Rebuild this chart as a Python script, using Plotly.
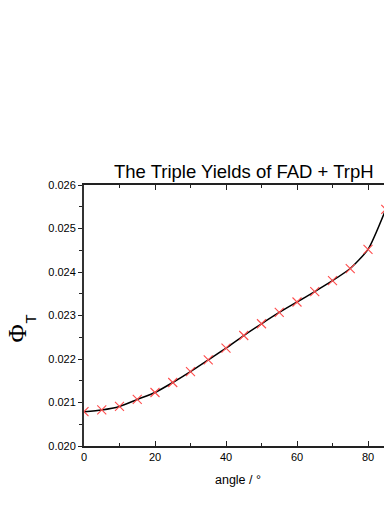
import plotly.graph_objs as go

# triplet yield vs field angle
angles = [0, 5, 10, 15, 20, 25, 30, 35, 40, 45, 50, 55, 60, 65, 70, 75, 80, 85]
phi_t = [0.02079, 0.02083, 0.02091, 0.02107, 0.02123, 0.02146, 0.02171, 0.02198,
         0.02225, 0.02254, 0.02281, 0.02307, 0.02331, 0.02355, 0.02380, 0.02408,
         0.02452, 0.02544]

font = "Liberation Sans, Arial, sans-serif"

fig = go.Figure()
fig.add_trace(go.Scatter(
    x=angles, y=phi_t, mode="lines",
    line=dict(color="black", width=1.5, shape="spline", smoothing=0.6),
    showlegend=False,
))
fig.add_trace(go.Scatter(
    x=angles, y=phi_t, mode="markers",
    marker=dict(symbol="x-thin-open", size=9,
                line=dict(color="#ff4d4d", width=1.1), color="#ff4d4d"),
    showlegend=False,
))

# page body has an 8px margin, so the figure is sized to fit inside the window
fig.update_layout(
    width=384, height=500,
    margin=dict(l=76, r=0, t=177, b=62),
    paper_bgcolor="white", plot_bgcolor="white",
    font=dict(family=font, color="black"),
    xaxis=dict(
        range=[0, 86.76], dtick=20, tick0=0,
        showgrid=False, zeroline=False,
        showline=True, linecolor="#222", linewidth=1.5,
        ticks="inside", ticklen=5, tickwidth=1.2, tickcolor="#222",
        mirror="ticks",
        minor=dict(dtick=10, ticks="inside", ticklen=3, tickcolor="#222", showgrid=False),
        tickfont=dict(size=11),
        title=dict(text="angle / °", font=dict(size=12.5), standoff=13),
    ),
    yaxis=dict(
        range=[0.020, 0.026], dtick=0.001, tick0=0.020, tickformat=".3f",
        showgrid=False, zeroline=False,
        showline=True, linecolor="#333", linewidth=2,
        ticks="outside", ticklen=4, tickwidth=1.2, tickcolor="#222",
        minor=dict(dtick=0.0005, ticks="outside", ticklen=3, tickcolor="#222", showgrid=False),
        tickfont=dict(size=11),
    ),
    annotations=[
        dict(text="The Triple Yields of FAD + TrpH", xref="x", yref="paper",
             x=45, y=1.0, yshift=14, showarrow=False, yanchor="middle",
             xanchor="center", font=dict(size=18.5)),
        # y-axis label: serif Phi with a dropped sans T subscript
        dict(text="Φ", xref="paper", yref="paper",
             x=0, xshift=-67, y=0.5, yshift=-18, showarrow=False,
             xanchor="center", yanchor="middle", textangle=-90,
             font=dict(size=25, family="Liberation Serif, Times New Roman, serif")),
        dict(text="T", xref="paper", yref="paper",
             x=0, xshift=-54, y=0.5, yshift=-4, showarrow=False,
             xanchor="center", yanchor="middle", textangle=-90,
             font=dict(size=15)),
    ],
)

fig.write_html("out.html")
